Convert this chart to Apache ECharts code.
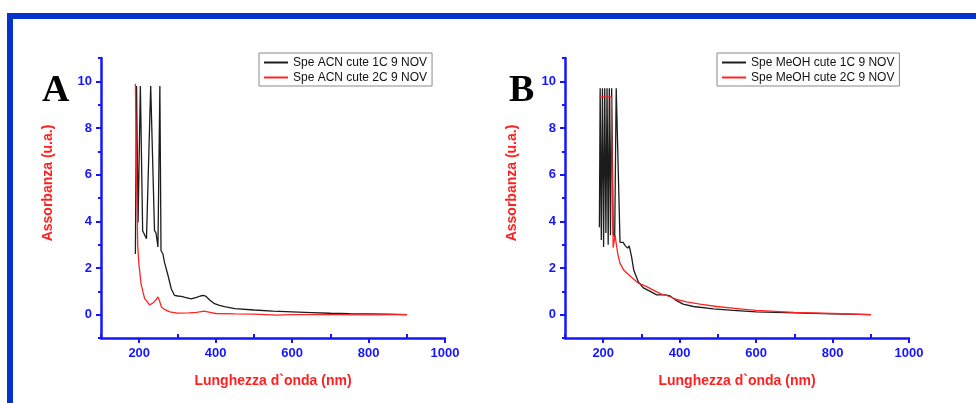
<!DOCTYPE html>
<html>
<head>
<meta charset="utf-8">
<title>Spettri UV-Vis SPE</title>
<script src="https://cdn.jsdelivr.net/npm/echarts@6/dist/echarts.min.js"></script>
<style>
  html, body { margin: 0; padding: 0; background: #ffffff; }
  #chart { width: 976px; height: 403px; }
</style>
</head>
<body>
<div id="chart"></div>
<script>
// Panel A: SPE in acetonitrile, wavelength (nm) and absorbance (u.a.)
const wlAcn1C = [190, 193, 197, 203, 209, 212, 219, 230, 235, 240, 244, 249, 254, 257, 262, 266, 275, 284, 292, 301, 310, 320, 336, 350, 360, 368, 375, 385, 397, 410, 423, 450, 500, 550, 600, 650, 700, 750, 800, 850, 900];
const absAcn1C = [2.6, 9.8, 3.95, 9.8, 3.6, 3.55, 3.25, 9.8, 9.8, 3.6, 3.5, 2.9, 9.8, 2.75, 2.6, 2.25, 1.7, 1.1, 0.83, 0.8, 0.78, 0.74, 0.68, 0.74, 0.8, 0.83, 0.78, 0.62, 0.47, 0.4, 0.34, 0.26, 0.2, 0.15, 0.12, 0.09, 0.06, 0.04, 0.03, 0.02, 0.0];
const wlAcn2C = [190, 193, 196, 199, 205, 214, 227, 236, 243, 249, 253, 258, 266, 280, 300, 330, 350, 370, 385, 400, 450, 500, 560, 600, 700, 800, 900];
const absAcn2C = [9.9, 6.0, 3.0, 2.2, 1.3, 0.7, 0.42, 0.5, 0.62, 0.76, 0.6, 0.33, 0.23, 0.12, 0.07, 0.08, 0.1, 0.15, 0.1, 0.05, 0.03, 0.02, -0.02, 0.0, 0.0, -0.01, 0.0];

// Panel B: SPE in methanol
const wlMeoh1C = [190, 192, 195, 198, 201, 204, 207, 210, 213, 216, 219, 222, 226, 230, 234, 239, 244, 252, 258, 264, 268, 274, 280, 292, 305, 323, 340, 362, 375, 392, 409, 436, 488, 540, 600, 700, 800, 900];
const absMeoh1C = [3.75, 9.7, 3.2, 9.7, 2.9, 9.7, 3.5, 9.7, 3.0, 9.7, 3.4, 9.7, 3.5, 3.3, 9.7, 9.7, 3.1, 3.1, 2.95, 2.85, 2.95, 2.5, 1.9, 1.4, 1.15, 1.0, 0.85, 0.85, 0.8, 0.6, 0.45, 0.35, 0.25, 0.18, 0.12, 0.08, 0.03, 0.0];
const wlMeoh2C = [190, 221, 226, 231, 238, 244, 248, 254, 264, 274, 292, 314, 331, 349, 370, 392, 418, 453, 497, 557, 600, 700, 800, 900];
const absMeoh2C = [9.33, 9.33, 2.87, 3.4, 2.6, 2.2, 2.2, 1.9, 1.75, 1.6, 1.35, 1.2, 1.05, 0.9, 0.8, 0.65, 0.55, 0.45, 0.35, 0.25, 0.18, 0.1, 0.05, 0.0];

// Tick positions: labelled major ticks and unlabelled minor ticks
const xMajorTicks = [200, 400, 600, 800, 1000];
const xMinorTicks = [100, 300, 500, 700, 900];
const yMajorTicks = [0, 2, 4, 6, 8, 10];
const yMinorTicks = [-1, 1, 3, 5, 7, 9, 11];

const namesA = ['Spe ACN cute 1C 9 NOV', 'Spe ACN cute 2C 9 NOV'];
const namesB = ['Spe MeOH cute 1C 9 NOV', 'Spe MeOH cute 2C 9 NOV'];
const xTitle = 'Lunghezza d`onda (nm)';
const yTitle = 'Assorbanza (u.a.)';

const AXIS_BLUE = '#1515ff';
const TITLE_RED = '#ff1f1f';
const FRAME_BLUE = '#0433cc';
const SANS = 'Liberation Sans, Arial, sans-serif';

const pairs = (xs, ys) => xs.map((x, i) => [x, ys[i]]);
const plainNumber = v => String(v);

// main x axis: line, labels and outward major ticks
function xAxisMain(gridIndex) {
  return {
    type: 'value', gridIndex: gridIndex,
    min: 100, max: 1000, interval: 100,
    name: xTitle, nameLocation: 'middle', nameGap: 36,
    nameTextStyle: { color: TITLE_RED, fontWeight: 'bold', fontSize: 14, fontFamily: SANS },
    axisLine: { onZero: false, lineStyle: { color: AXIS_BLUE, width: 2.5 } },
    axisTick: { inside: false, length: 5, customValues: xMajorTicks, lineStyle: { color: AXIS_BLUE, width: 2 } },
    axisLabel: {
      color: AXIS_BLUE, fontWeight: 'bold', fontSize: 13, margin: 9,
      fontFamily: SANS, customValues: xMajorTicks, formatter: plainNumber
    },
    splitLine: { show: false }
  };
}

// companion x axis carrying the inward minor ticks only
function xAxisMinor(gridIndex) {
  return {
    type: 'value', gridIndex: gridIndex, position: 'bottom',
    min: 100, max: 1000, interval: 100,
    axisLine: { show: false, onZero: false },
    axisTick: { inside: true, length: 4, customValues: xMinorTicks, lineStyle: { color: AXIS_BLUE, width: 2 } },
    axisLabel: { show: false },
    splitLine: { show: false }
  };
}

function yAxisMain(gridIndex) {
  return {
    type: 'value', gridIndex: gridIndex,
    min: -1, max: 11, interval: 1,
    name: yTitle, nameLocation: 'middle', nameGap: 46,
    nameTextStyle: { color: TITLE_RED, fontWeight: 'bold', fontSize: 14, fontFamily: SANS, padding: [0, 0, 0, 30] },
    axisLine: { onZero: false, lineStyle: { color: AXIS_BLUE, width: 2.5 } },
    axisTick: { inside: false, length: 5, customValues: yMajorTicks, lineStyle: { color: AXIS_BLUE, width: 2 } },
    axisLabel: {
      color: AXIS_BLUE, fontWeight: 'bold', fontSize: 13, margin: 9,
      fontFamily: SANS, customValues: yMajorTicks, formatter: plainNumber
    },
    splitLine: { show: false }
  };
}

function yAxisMinor(gridIndex) {
  return {
    type: 'value', gridIndex: gridIndex, position: 'left',
    min: -1, max: 11, interval: 1,
    axisLine: { show: false, onZero: false },
    axisTick: { inside: false, length: 3, customValues: yMinorTicks, lineStyle: { color: AXIS_BLUE, width: 2 } },
    axisLabel: { show: false },
    splitLine: { show: false }
  };
}

function legendFor(names, left) {
  return {
    data: names, left: left, top: 53, orient: 'vertical',
    borderColor: '#8a8a8a', borderWidth: 1, borderRadius: 0,
    padding: [2, 5, 1, 5],
    itemWidth: 24, itemHeight: 2, itemGap: 0, itemTextGap: 4,
    icon: 'rect',
    textStyle: { color: '#111', fontSize: 12, lineHeight: 15, fontFamily: SANS }
  };
}

function lineSeries(name, data, color, axisIdx) {
  return {
    name: name, type: 'line', data: data,
    xAxisIndex: axisIdx, yAxisIndex: axisIdx,
    symbol: 'none', smooth: false,
    lineStyle: { color: color, width: 1.3 },
    itemStyle: { color: color }
  };
}

const chart = echarts.init(document.getElementById('chart'), null, { renderer: 'canvas' });
chart.setOption({
  backgroundColor: '#ffffff',
  animation: false,
  grid: [
    { left: 101, top: 58, width: 344, height: 280 },
    { left: 565, top: 58, width: 344, height: 280 }
  ],
  // indices 0,1: main axes of panels A and B; 2,3: minor-tick companions
  xAxis: [xAxisMain(0), xAxisMain(1), xAxisMinor(0), xAxisMinor(1)],
  yAxis: [yAxisMain(0), yAxisMain(1), yAxisMinor(0), yAxisMinor(1)],
  legend: [legendFor(namesA, 259), legendFor(namesB, 717)],
  series: [
    lineSeries(namesA[0], pairs(wlAcn1C, absAcn1C), '#1c1c1c', 0),
    lineSeries(namesA[1], pairs(wlAcn2C, absAcn2C), '#ff2424', 0),
    lineSeries(namesB[0], pairs(wlMeoh1C, absMeoh1C), '#1c1c1c', 1),
    lineSeries(namesB[1], pairs(wlMeoh2C, absMeoh2C), '#ff2424', 1)
  ],
  graphic: [
    // slide frame: top and left bars
    { type: 'rect', shape: { x: 7, y: 13, width: 969, height: 6 }, style: { fill: FRAME_BLUE }, silent: true },
    { type: 'rect', shape: { x: 7, y: 13, width: 6, height: 390 }, style: { fill: FRAME_BLUE }, silent: true },
    // panel letters
    { type: 'text', style: { text: 'A', x: 42, y: 91, textVerticalAlign: 'middle', font: 'bold 38px "Liberation Serif", "Times New Roman", serif', fill: '#000' } },
    { type: 'text', style: { text: 'B', x: 509, y: 91, textVerticalAlign: 'middle', font: 'bold 38px "Liberation Serif", "Times New Roman", serif', fill: '#000' } }
  ]
});
</script>
</body>
</html>
